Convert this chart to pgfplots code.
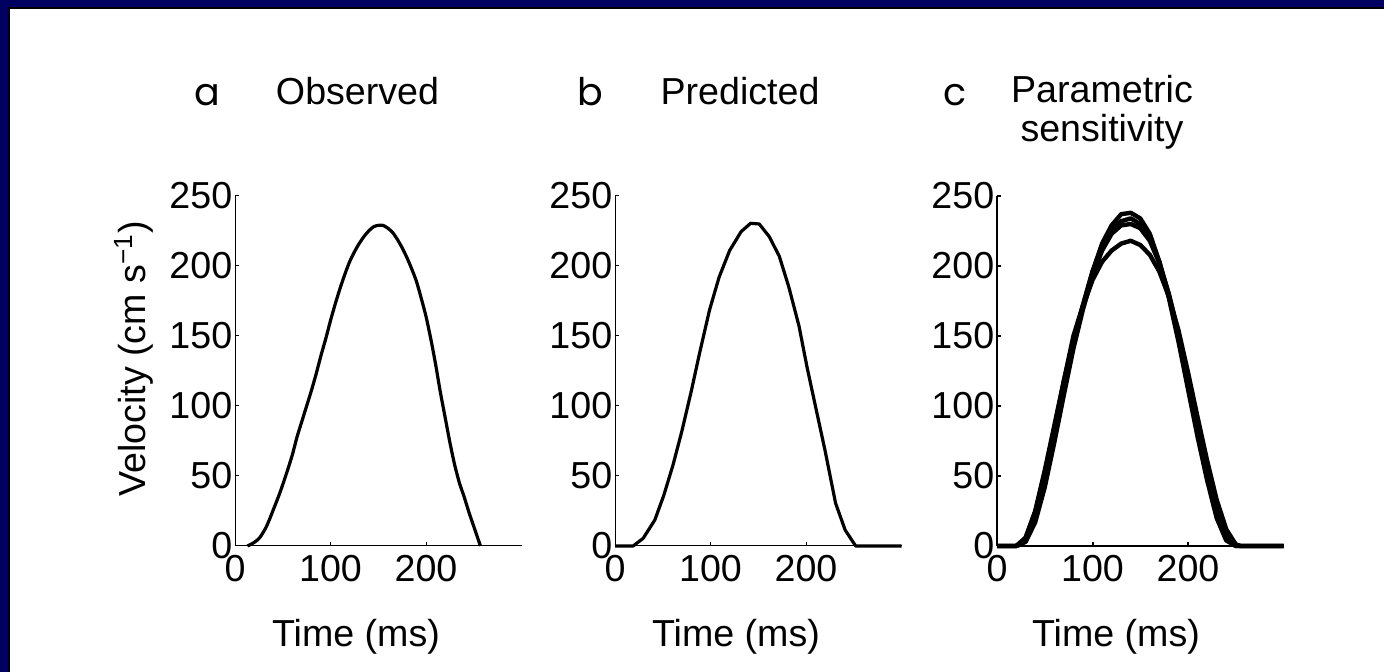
\documentclass[border=0pt]{standalone}
\usepackage{fontspec}
\setmainfont{Liberation Sans}
\newfontfamily\letterfont{Poppins}
\usepackage{pgfplots}
\pgfplotsset{compat=1.18}
\definecolor{framenavy}{RGB}{0,0,96}
\newcommand{\lab}{\fontsize{18.8}{22}\selectfont}
\newcommand{\letsize}{\letterfont\fontsize{19}{22}\selectfont}

\pgfplotsset{
  panel/.style={
    anchor=south west, scale only axis,
    width=143.25pt, height=175pt,
    xmin=0, xmax=300, ymin=0, ymax=250,
    axis lines=left, axis line style={-, line width=0.5pt},
    xtick={0,100,200}, ytick={0,50,...,250},
    tick align=inside, major tick length=2pt,
    tick style={black, line width=0.5pt},
    tick label style={font=\lab},
    xticklabel style={inner sep=1.5pt, yshift=-3pt},
    yticklabel style={inner sep=1.2pt},
    /pgf/number format/assume math mode=true,
    clip=false,
  },
  curve/.style={black, line width=1.6pt, line join=round},
}

\begin{document}
\begin{tikzpicture}
\useasboundingbox (0,0) rectangle (692pt,336pt);
\fill[white] (0,0) rectangle (692pt,336pt);
\fill[framenavy] (0,0) rectangle (4pt,336pt);
\fill[framenavy] (0,332.5pt) rectangle (692pt,336pt);
\fill[black] (4pt,0) rectangle (5pt,332.5pt);
\fill[black] (4pt,331.5pt) rectangle (692pt,332.5pt);

% a: observed
\begin{axis}[panel, at={(117.5pt,63pt)}]
  \addplot[curve, smooth, tension=0.4] coordinates {
    (13,0)(20,2.5)(26,6)(33,14)(40,25.7)(47,38)(54,52)(60,65)(65,78)(70,89)
    (75,100)(80,111)(85,123)(90,136)(95,148)(100,161)(105,173)(110,184)
    (115,194)(120,203)(125,210)(130,216)(135,221)(140,225)(145,228)(150,229)
    (155,229)(160,227)(165,224)(170,219)(175,213)(180,206)(185,198)(190,189)
    (195,177)(200,164)(205,148)(210,130)(215,110)(220,92)(225,74)(230,58)
    (235,45)(240,35)(245,24)(250,14)(257,0)
  };
\end{axis}

% b: predicted
\begin{axis}[panel, at={(307.5pt,63pt)}]
  \addplot[curve] coordinates {
    (0,0)(10,0)(19,0)(29.5,5.5)(41.7,18.6)(51,36)(60.8,58)(70,82)(80,111)
    (88.5,137.6)(99,168.6)(109,192)(120,211)(132,224.5)(142,230.5)(151,230)
    (161.5,221)(172,207)(182,185)(192.7,157)(201,128)(210,99.5)(220,68)
    (231,30.5)(241,11.4)(252,0)(300,0)
  };
\end{axis}

% c: parametric sensitivity
\begin{axis}[panel, at={(498.5pt,63pt)},
  axis line style={-, line width=1pt}, tick style={black, line width=1pt}]
  \addplot[curve, line width=2.2pt] coordinates {
    (0,0)(10,0)(20,0)(30,6)(40,24)(50,52)(60,84)(70,118)(80,150)(90,172)
    (100,196)(110,216)(120,229)(130,237)(140,238)(150,234)(160,223)(170,203)
    (180,177)(190,146)(200,112)(210,78)(220,47)(230,20)(240,4)(250,0)(300,0)
  };
  \addplot[curve, line width=2.2pt] coordinates {
    (0,0)(10,0)(20,0)(25,1)(30,4)(40,20)(50,46)(60,78)(70,112)(80,145)(90,172)
    (100,196)(110,214)(120,226)(130,232)(140,234)(150,230)(160,220)(170,203)
    (180,179)(190,150)(200,117)(210,84)(220,53)(230,26)(240,8)(250,0)(300,0)
  };
  \addplot[curve, line width=2.2pt] coordinates {
    (0,0)(20,0)(30,3)(40,17)(50,42)(60,74)(70,108)(80,141)(90,169)(100,193)
    (110,211)(120,223)(130,229)(140,230)(150,227)(160,218)(170,202)(180,180)
    (190,152)(200,121)(210,89)(220,58)(230,31)(240,11)(250,1)(255,0)(300,0)
  };
  \addplot[curve, line width=2.2pt] coordinates {
    (0,0)(20,0)(25,2)(30,6)(40,25)(50,54)(60,86)(70,118)(80,147)(90,171)
    (100,190)(110,203)(120,211)(130,216)(140,218)(150,215)(160,208)(170,196)
    (180,178)(190,154)(200,124)(210,92)(220,61)(230,33)(240,12)(250,1)(255,0)(300,0)
  };
\end{axis}

% labels
\node[rotate=90, anchor=base, font=\lab] at (72.5pt,156.5pt)
  {Velocity (cm s\textsuperscript{\char"2212 1})};
\node[anchor=base, font=\lab] at (178pt,12.5pt) {Time (ms)};
\node[anchor=base, font=\lab] at (368pt,12.5pt) {Time (ms)};
\node[anchor=base, font=\lab] at (558pt,12.5pt) {Time (ms)};

\node[anchor=base, font=\lab] at (178.75pt,283.5pt) {Observed};
\node[anchor=base, font=\lab] at (370pt,283.5pt) {Predicted};
\node[anchor=base, font=\lab] at (551pt,284.5pt) {Parametric};
\node[anchor=base, font=\lab] at (551pt,265pt) {sensitivity};

\node[anchor=base, font=\letsize] at (103.5pt,283pt) {a};
\node[anchor=base, font=\letsize] at (295pt,283pt) {b};
\node[anchor=base, font=\letsize] at (477.5pt,283pt) {c};
\end{tikzpicture}
\end{document}
